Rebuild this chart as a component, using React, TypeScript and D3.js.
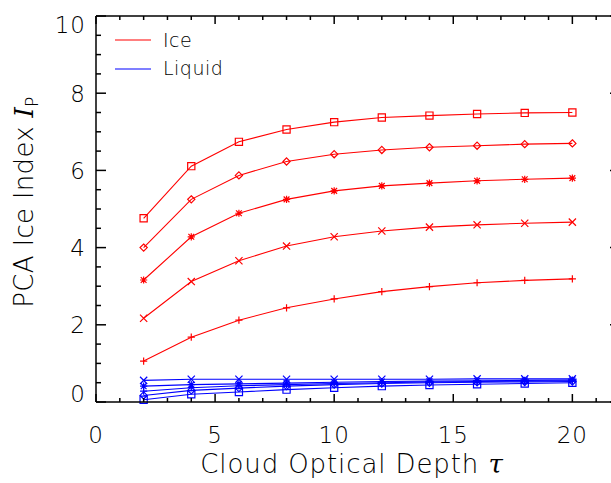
import React from "react";
import * as d3 from "d3";

const tau = [2, 4, 6, 8, 10, 12, 14, 16, 18, 20];

// Ice series (psym: square, diamond, asterisk, x, plus)
const iceSquare = [4.76, 6.11, 6.74, 7.06, 7.25, 7.37, 7.42, 7.46, 7.49, 7.5];
const iceDiamond = [4.0, 5.25, 5.87, 6.23, 6.42, 6.53, 6.6, 6.64, 6.68, 6.7];
const iceAsterisk = [3.16, 4.28, 4.89, 5.25, 5.47, 5.6, 5.67, 5.73, 5.77, 5.8];
const iceX = [2.17, 3.12, 3.66, 4.04, 4.28, 4.43, 4.53, 4.59, 4.63, 4.66];
const icePlus = [1.06, 1.68, 2.12, 2.44, 2.67, 2.86, 2.99, 3.09, 3.15, 3.19];

// Liquid series
const liqX = [0.56, 0.59, 0.59, 0.59, 0.59, 0.59, 0.59, 0.6, 0.6, 0.6];
const liqAsterisk = [0.41, 0.45, 0.47, 0.49, 0.51, 0.53, 0.54, 0.55, 0.56, 0.57];
const liqPlus = [0.28, 0.37, 0.42, 0.45, 0.48, 0.5, 0.52, 0.53, 0.54, 0.55];
const liqDiamond = [0.17, 0.3, 0.36, 0.41, 0.45, 0.48, 0.5, 0.51, 0.52, 0.53];
const liqSquare = [0.06, 0.2, 0.26, 0.32, 0.37, 0.41, 0.44, 0.46, 0.48, 0.5];

const xTicks = [0, 5, 10, 15, 20];
const yTicks = [0, 2, 4, 6, 8, 10];
const legendLabels = ["Ice", "Liquid"];

type Sym = "square" | "diamond" | "asterisk" | "x" | "plus";

const series: { values: number[]; sym: Sym; color: string }[] = [
  { values: iceSquare, sym: "square", color: "#ff0000" },
  { values: iceDiamond, sym: "diamond", color: "#ff0000" },
  { values: iceAsterisk, sym: "asterisk", color: "#ff0000" },
  { values: iceX, sym: "x", color: "#ff0000" },
  { values: icePlus, sym: "plus", color: "#ff0000" },
  { values: liqX, sym: "x", color: "#0000ff" },
  { values: liqAsterisk, sym: "asterisk", color: "#0000ff" },
  { values: liqPlus, sym: "plus", color: "#0000ff" },
  { values: liqDiamond, sym: "diamond", color: "#0000ff" },
  { values: liqSquare, sym: "square", color: "#0000ff" },
];

const W = 611;
const H = 483;
const left = 96;
const right = 620;
const top = 16;
const bottom = 402;

const FONT = "'DejaVu Sans', sans-serif";

function marker(sym: Sym, cx: number, cy: number, color: string, key: string) {
  const s = 3.6;
  let d = "";
  if (sym === "square") {
    d = `M${cx - s},${cy - s}H${cx + s}V${cy + s}H${cx - s}Z`;
  } else if (sym === "diamond") {
    d = `M${cx},${cy - s}L${cx + s},${cy}L${cx},${cy + s}L${cx - s},${cy}Z`;
  } else if (sym === "x") {
    d = `M${cx - s},${cy - s}L${cx + s},${cy + s}M${cx - s},${cy + s}L${cx + s},${cy - s}`;
  } else if (sym === "plus") {
    d = `M${cx - s},${cy}H${cx + s}M${cx},${cy - s}V${cy + s}`;
  } else {
    d = `M${cx - s},${cy}H${cx + s}M${cx},${cy - s}V${cy + s}M${cx - s * 0.8},${cy - s * 0.8}L${cx + s * 0.8},${cy + s * 0.8}M${cx - s * 0.8},${cy + s * 0.8}L${cx + s * 0.8},${cy - s * 0.8}`;
  }
  return <path key={key} d={d} fill="none" stroke={color} strokeWidth={1.2} />;
}

export default function App() {
  const x = d3.scaleLinear().domain([0, 22]).range([left, right]);
  const y = d3.scaleLinear().domain([0, 10]).range([bottom, top]);
  const line = d3
    .line<number>()
    .x((_, i) => x(tau[i]))
    .y((v) => y(v));

  const xMinor = d3.range(0, 23, 1);
  const yMinor = d3.range(0, 10.01, 0.5);

  return (
    <svg
      width={W}
      height={H}
      style={{ position: "absolute", left: 0, top: 0, background: "#fff" }}
      fontFamily={FONT}
    >
      <rect x={0} y={0} width={W} height={H} fill="#fff" />
      {/* series */}
      {series.map((s, si) => (
        <g key={si}>
          <path d={line(s.values) || ""} fill="none" stroke={s.color} strokeWidth={1.1} />
          {s.values.map((v, i) => marker(s.sym, x(tau[i]), y(v), s.color, `${si}-${i}`))}
        </g>
      ))}
      {/* axes box */}
      <g stroke="#000" strokeWidth={1.5} fill="none">
        <line x1={left} y1={top} x2={left} y2={bottom} />
        <line x1={left} y1={bottom} x2={right} y2={bottom} />
        <line x1={left} y1={top} x2={right} y2={top} />
        <line x1={right} y1={top} x2={right} y2={bottom} />
      </g>
      {/* ticks */}
      <g stroke="#000" strokeWidth={1.5}>
        {xMinor.map((t) => {
          const major = t % 5 === 0;
          const len = major ? 8 : 4;
          return (
            <g key={t}>
              <line x1={x(t)} x2={x(t)} y1={bottom} y2={bottom - len} />
              <line x1={x(t)} x2={x(t)} y1={top} y2={top + len} />
            </g>
          );
        })}
        {yMinor.map((t) => {
          const major = Math.abs(t % 2) < 1e-6;
          const len = major ? 10 : 5;
          return (
            <g key={t}>
              <line x1={left} x2={left + len} y1={y(t)} y2={y(t)} />
              <line x1={right} x2={right - len} y1={y(t)} y2={y(t)} />
            </g>
          );
        })}
      </g>
      {/* tick labels */}
      <g fontSize={23} fontWeight={200} fill="#000" letterSpacing={1}>
        {xTicks.map((t) => (
          <text key={t} x={x(t)} y={443} textAnchor="middle">
            {t}
          </text>
        ))}
        {yTicks.map((t) => {
          let yy = y(t) + 8.5;
          if (t === 0) yy = bottom;
          if (t === 10) yy = top + 17;
          return (
            <text key={t} x={86} y={yy} textAnchor="end">
              {t}
            </text>
          );
        })}
      </g>
      {/* axis titles */}
      <text
        x={352}
        y={473}
        textAnchor="middle"
        fontSize={26}
        fontWeight={200}
        fill="#000"
        letterSpacing={0.9}
      >
        Cloud Optical Depth{" "}
        <tspan fontFamily="'DejaVu Serif', serif" fontStyle="italic" fontWeight={400}>
          τ
        </tspan>
      </text>
      <text
        transform={`translate(33,202) rotate(-90)`}
        textAnchor="middle"
        fontSize={26}
        fontWeight={200}
        fill="#000"
        letterSpacing={0.3}
      >
        PCA Ice Index{" "}
        <tspan fontFamily="'DejaVu Serif', serif" fontStyle="italic" fontWeight={400}>
          I
        </tspan>
        <tspan fontSize={17} dy={5}>
          P
        </tspan>
      </text>
      {/* legend */}
      <g>
        {legendLabels.map((lab, i) => (
          <g key={lab}>
            <line
              x1={115}
              x2={151}
              y1={40 + i * 29}
              y2={40 + i * 29}
              stroke={i === 0 ? "#ff0000" : "#0000ff"}
              strokeWidth={1.1}
            />
            <text x={163} y={47 + i * 28} fontSize={19} fontWeight={200} fill="#000" letterSpacing={0.5}>
              {lab}
            </text>
          </g>
        ))}
      </g>
    </svg>
  );
}
